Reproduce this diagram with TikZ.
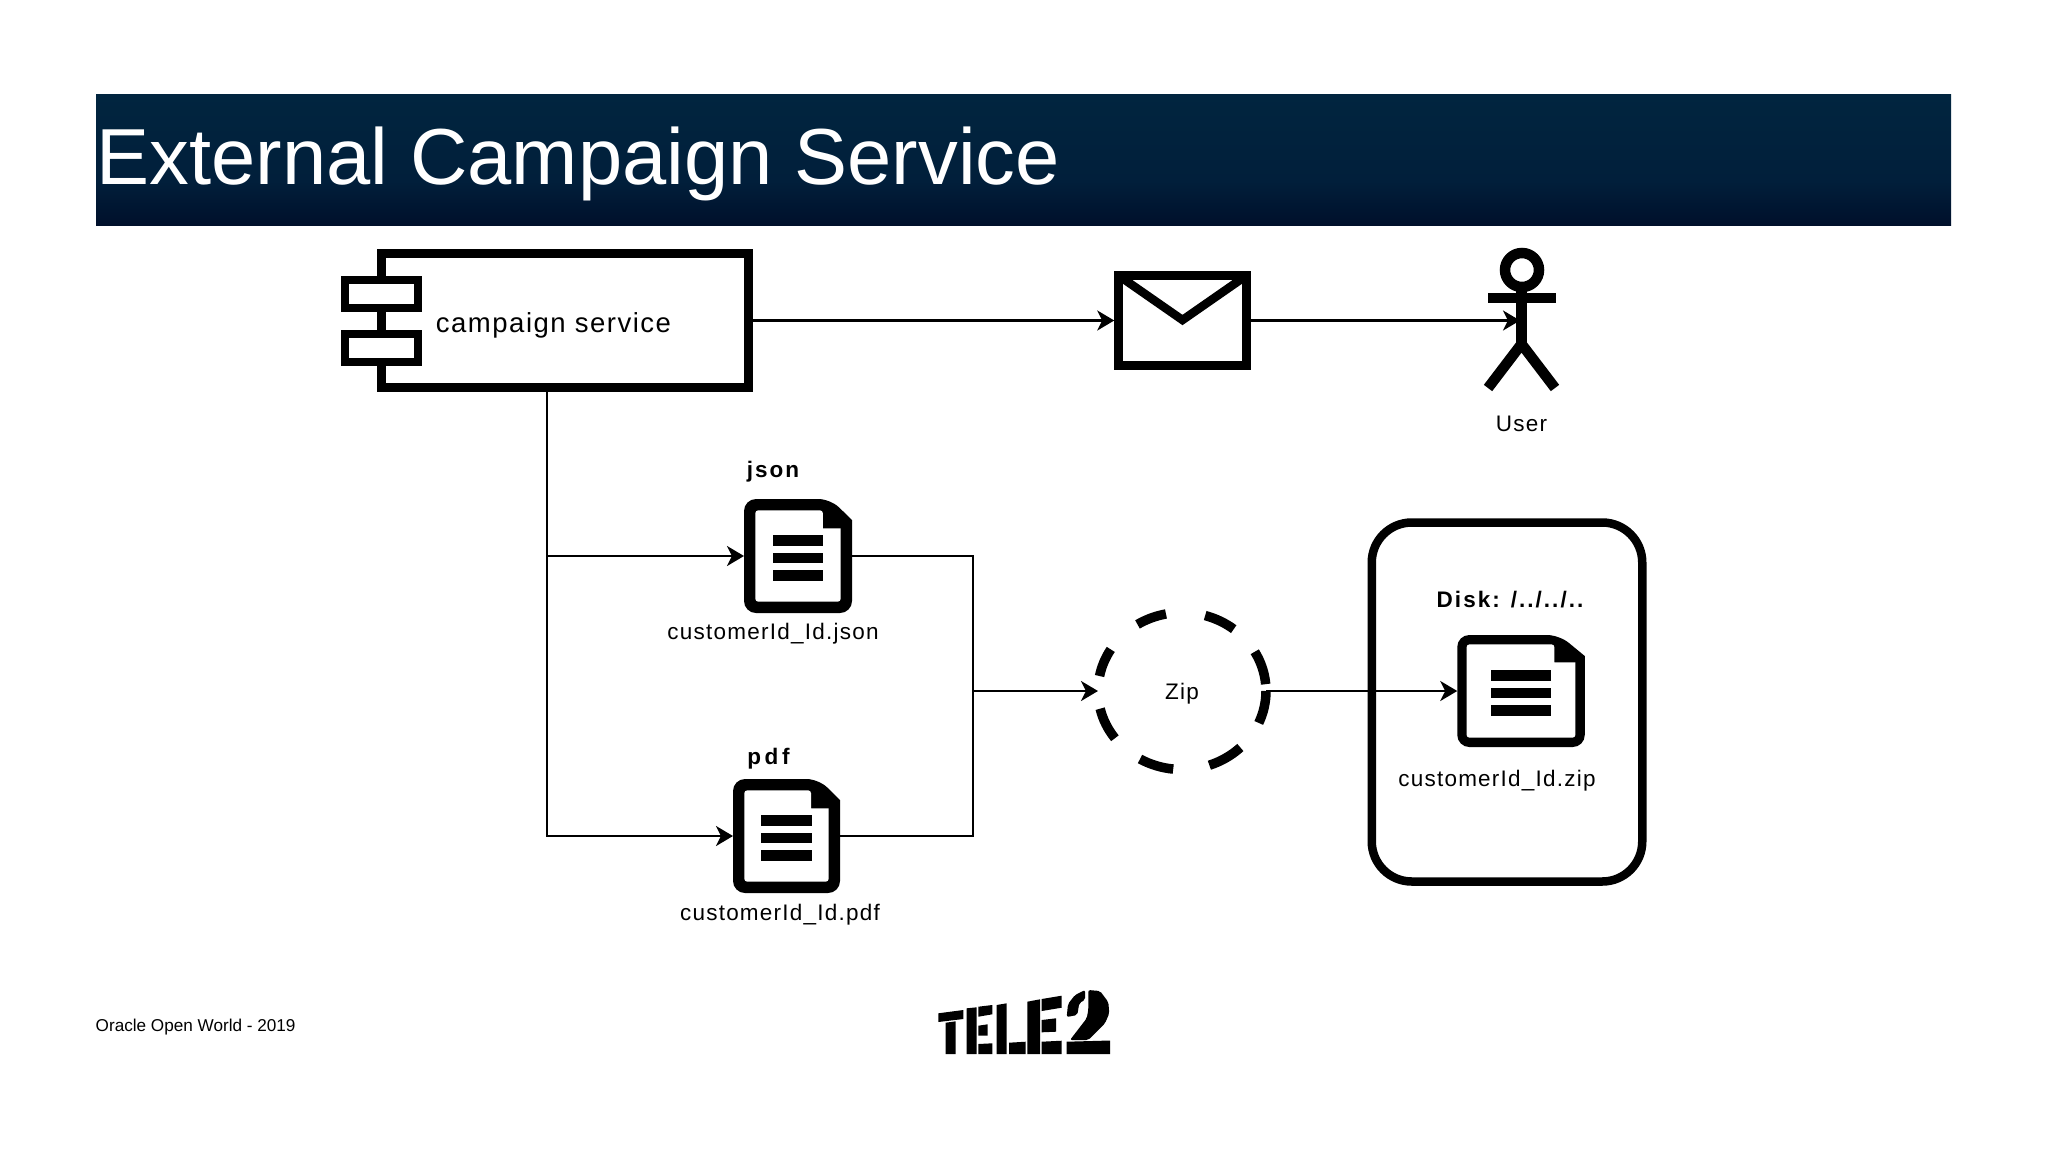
\documentclass[tikz,border=0pt]{standalone}
\usepackage{fontspec}
\usepackage{tikz}
\usetikzlibrary{arrows.meta,shapes.geometric}
\setmainfont{Liberation Sans}
\newfontfamily\lblfont[LetterSpace=5.5]{Liberation Sans}
\newfontfamily\tagfont[LetterSpace=9]{Liberation Sans}
\newfontfamily\widefont[LetterSpace=16]{Liberation Sans}
\definecolor{headtop}{HTML}{01253F}
\definecolor{headmid}{HTML}{011F3B}
\definecolor{headlow}{HTML}{00102B}
\pgfdeclareverticalshading{headshade}{100bp}{color(0bp)=(headlow); color(25bp)=(headlow); color(42bp)=(headmid); color(75bp)=(headtop); color(100bp)=(headtop)}
\tikzset{
	heavy/.style={draw,line width=8.5,inner sep=0,outer sep=4.25,minimum width=#1},
	wire/.style={line width=2.6},
	docnode/.style={inner sep=0,outer sep=0},
	lbl/.style={anchor=base,inner sep=0,font=\lblfont\fontsize{22.5}{27}\selectfont},
	tag/.style={anchor=base,inner sep=0,font=\tagfont\bfseries\fontsize{22.5}{27}\selectfont},
}
\newcommand{\docicon}[4]{
	\begin{scope}[shift={(#1.center)}]
		\pgfmathsetmacro{\inx}{#2-#4}
		\pgfmathsetmacro{\iny}{#3-#4}
		\pgfmathsetmacro{\cutx}{#2*0.4}
		\pgfmathsetmacro{\foldx}{#2*0.33}
		\pgfmathsetmacro{\barx}{#2*0.47}
		\fill[rounded corners=12] (-#2,-#3) -- (#2-\cutx,-#3) [sharp corners] -- (#2,21-#3) [rounded corners=12] -- (#2,#3) -- (-#2,#3) -- cycle;
		\fill[white,rounded corners=3] (-\inx,-\iny) -- (\inx-\foldx,-\iny) [sharp corners] -- (\inx-\foldx,18-\iny) -- (\inx,18-\iny) [rounded corners=3] -- (\inx,\iny) -- (-\inx,\iny) -- cycle;
		\foreach \rowy in {-15.5,2,19.5}
			\fill (-\barx,\rowy-5.25) rectangle (\barx,\rowy+5.25);
	\end{scope}
}
\begin{document}
\begin{tikzpicture}[x=1pt,y=-1pt,>={Stealth[length=17pt,width=20pt,inset=5pt]}]
	\useasboundingbox (0,0) rectangle (2048,1152);

	\node[shading=headshade,minimum width=1855,minimum height=131,inner sep=0] (head) at (1023.5,159.7) {};
	\node[anchor=base west,inner sep=0,text=white,font=\fontsize{79.5}{90}\selectfont] (title) at (96.5,184.3) {External Campaign Service};
	\node[anchor=base west,inner sep=0,font=\fontsize{17.15}{20}\selectfont] (footer) at (95.5,1031) {Oracle Open World - 2019};

	\node[heavy=367,minimum height=134] (svc) at (565,320.5) {};
	\node[heavy=73,minimum height=28,fill=white,line width=8] (porta) at (381.5,294) {};
	\node[heavy=73,minimum height=28,fill=white,line width=8] (portb) at (381.5,348) {};
	\node[lbl,font=\lblfont\fontsize{27.5}{32}\selectfont] (svclabel) at (553.5,332) {campaign service};
	\coordinate (tap) at (547,390);

	\node[heavy=128,minimum height=90] (mail) at (1182.5,320.5) {};
	\draw[line width=8.5] (1118.5,275.5) -- (1182.5,320) -- (1246.5,275.5);

	\draw[line width=10.5] (1522,270) circle (17);
	\draw[line width=10.5] (1488,298) -- (1556,298);
	\draw[line width=10.5] (1521.5,287) -- (1521.5,345);
	\draw[line width=10.5] (1488,388) -- (1521.5,344) -- (1555,388);
	\coordinate (usertip) at (1520,320.5);
	\node[lbl] (userlabel) at (1521.5,431.5) {User};

	\node[docnode,minimum width=108,minimum height=114] (jsonfile) at (798,556) {};
	\docicon{jsonfile}{54}{57}{11.3}
	\node[tag] (jsontag) at (773,477) {json};
	\node[lbl] (jsonname) at (773,639) {customerId\_Id.json};

	\node[docnode,minimum width=107,minimum height=114] (pdffile) at (786.5,836) {};
	\docicon{pdffile}{53.5}{57}{11.3}
	\node[tag,font=\widefont\bfseries\fontsize{22.5}{27}\selectfont] (pdftag) at (768.5,764) {pdf};
	\node[lbl] (pdfname) at (780,920) {customerId\_Id.pdf};

	\coordinate (busmid) at (973,691);
	\node[ellipse,inner sep=0,outer sep=0,minimum width=168,minimum height=157] (zip) at (1182,691) {};
	\foreach \from/\upto in {-24/0,5/30,52/74,101/122,148/169,193/217,240/264,289/314}
		\draw[line width=9.5] ([shift={(\from:84pt and 78.5pt)}]zip.center) arc[start angle=\from,end angle=\upto,x radius=84pt,y radius=78.5pt];
	\node[lbl] (ziplabel) at (1182,699) {Zip};

	\node[heavy=270.5,minimum height=359,rounded corners=40] (disk) at (1507,702) {};
	\node[tag] (disktag) at (1510,607.5) {Disk: /../../..};
	\node[docnode,minimum width=127.5,minimum height=112] (zipfile) at (1521,691) {};
	\docicon{zipfile}{63.75}{56}{9.3}
	\node[lbl] (zipname) at (1497,786) {customerId\_Id.zip};

	\draw[wire,->] (svc) -- (mail);
	\draw[wire,->] (mail) -- (usertip);
	\draw[wire,->] (tap) |- (jsonfile);
	\draw[wire,->] (tap) |- (pdffile);
	\draw[wire] (jsonfile.east) -| (busmid);
	\draw[wire] (pdffile.east) -| (busmid);
	\draw[wire,->] (busmid) -- (zip);
	\draw[wire,->] (zip) -- (zipfile);

	\fill (938.3,1013.3) -- (963.3,1010) -- (963.3,1019) -- (938.3,1022) -- cycle;
	\fill (945.7,1022.7) -- (955.7,1021.3) -- (955.7,1054) -- (945.7,1054) -- cycle;
	\fill (966.7,1008.3) -- (976.7,1007.3) -- (976.7,1054) -- (966.7,1054) -- cycle;
	\fill (978.3,1006.7) -- (992.3,1005) -- (992.3,1014.3) -- (978.3,1016.7) -- cycle;
	\fill (978.3,1025.7) -- (987.7,1024.3) -- (987.7,1035.7) -- (978.3,1035.7) -- cycle;
	\fill (978.3,1044) -- (992.3,1043.3) -- (992.3,1054) -- (978.3,1054) -- cycle;
	\fill (996.7,1005) -- (1006.7,1003.3) -- (1006.7,1054) -- (996.7,1054) -- cycle;
	\fill (1009,1042.7) -- (1025.7,1041.7) -- (1025.7,1054) -- (1009,1054) -- cycle;
	\fill (1027.3,1001.7) -- (1040,999.3) -- (1040,1054) -- (1027.3,1054) -- cycle;
	\fill (1041.7,999) -- (1061.7,995.7) -- (1061.7,1007.7) -- (1041.7,1011) -- cycle;
	\fill (1041.7,1020) -- (1056,1018.3) -- (1056,1031.7) -- (1041.7,1032.3) -- cycle;
	\fill (1041.7,1041.7) -- (1061.7,1040.7) -- (1061.7,1054) -- (1041.7,1054) -- cycle;
	\fill[rounded corners=2] (1066.7,1017) -- (1068,1004) -- (1075,995) -- (1085,990) -- (1085,1000) -- (1079.3,1003) -- (1077.3,1015) -- cycle;
	\fill[rounded corners=2] (1088.3,990) -- (1100,991) -- (1108.3,1002) -- (1109.3,1013.3) -- (1105,1023.3) -- (1088.3,1040) -- (1070,1040) -- (1086.7,1018.3) -- (1088.3,1010) -- cycle;
	\fill (1066.7,1041.7) -- (1110,1040.5) -- (1110,1054) -- (1066.7,1054) -- cycle;
\end{tikzpicture}
\end{document}
